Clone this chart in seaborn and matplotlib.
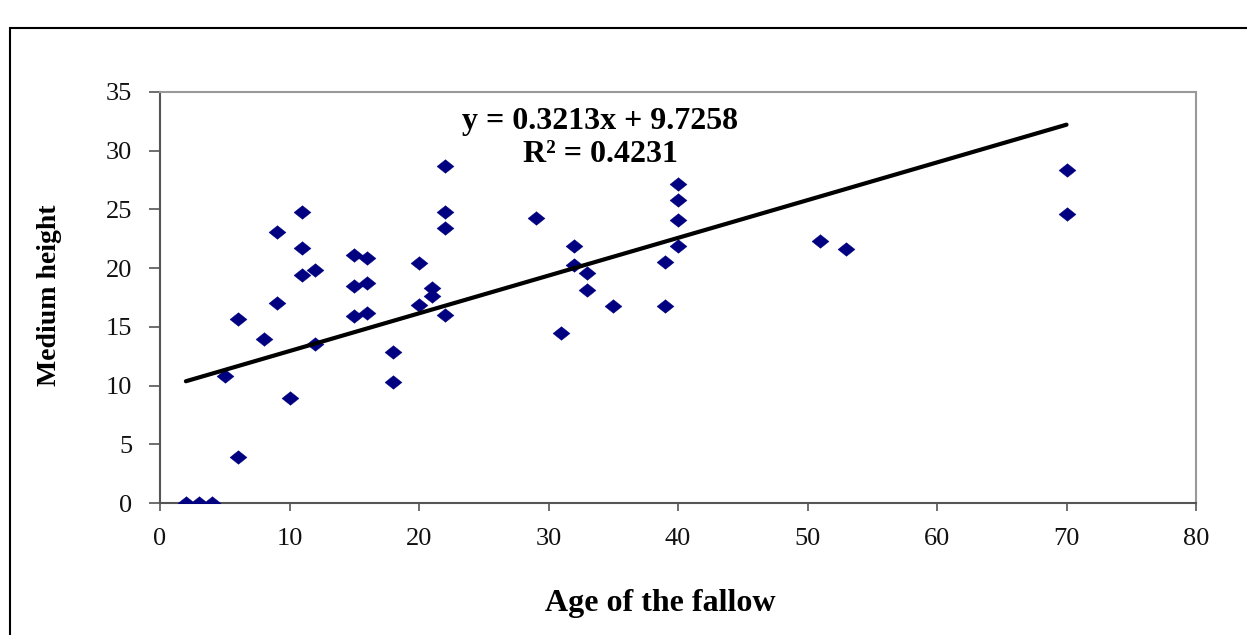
import matplotlib
matplotlib.use("Agg")
import matplotlib.pyplot as plt
import seaborn as sns
import numpy as np
import pandas as pd
from matplotlib.patches import Rectangle

# ---- data ----
age = [2, 3, 4, 5, 6, 6, 8, 9, 9, 10, 11, 11, 11, 12, 12,
       15, 15, 15, 16, 16, 16, 18, 18, 20, 20, 21, 21,
       22, 22, 22, 22, 29, 31, 32, 32, 33, 33, 35, 39, 39,
       40, 40, 40, 40, 51, 53, 70, 70]
height = [0.0, 0.0, 0.0, 10.8, 15.7, 3.9, 14.0, 23.1, 17.0, 8.9, 24.8, 21.7, 19.4, 19.8, 13.5,
          21.1, 18.5, 15.9, 20.9, 18.7, 16.2, 12.9, 10.3, 20.4, 16.9, 18.3, 17.6,
          28.7, 24.8, 23.4, 16.0, 24.3, 14.5, 21.9, 20.3, 19.6, 18.1, 16.8, 20.5, 16.8,
          27.2, 25.8, 24.1, 21.9, 22.3, 21.6, 28.4, 24.6]
slope = 0.3213
intercept = 9.7258
r2 = 0.4231
x_ticks = [0, 10, 20, 30, 40, 50, 60, 70, 80]
y_ticks = [0, 5, 10, 15, 20, 25, 30, 35]
x_label = "Age of the fallow"
y_label = "Medium height"

df = pd.DataFrame({"age": age, "height": height})

sns.set_theme(style="white")
plt.rcParams["font.family"] = ["Liberation Serif", "DejaVu Serif"]

W, H = 1247, 635
fig = plt.figure(figsize=(W / 100, H / 100), dpi=100)
ax = fig.add_axes([160 / W, 1 - 503 / H, (1196 - 160) / W, (503 - 92) / H])

diamond = [(-1, 0), (0, 0.8), (1, 0), (0, -0.8), (-1, 0)]
sns.scatterplot(data=df, x="age", y="height", marker=diamond, s=150,
                color="#000080", edgecolor="#000080", linewidth=0.3, ax=ax, zorder=3)

xl = np.array([min(age), max(age)])
sns.lineplot(x=xl, y=slope * xl + intercept, color="black", linewidth=3.0, ax=ax, zorder=4)

ax.set_xlim(0, 80)
ax.set_ylim(0, 35)
ax.set_xticks(x_ticks)
ax.set_yticks(y_ticks)
ax.tick_params(axis="y", direction="out", length=8, width=1.2, color="#555555",
               labelsize=19, pad=12, left=True, labelcolor="#111111")
ax.tick_params(axis="x", direction="out", length=6, width=1.2, color="#555555",
               labelsize=19, pad=12, bottom=True, labelcolor="#111111")

for side in ["left", "bottom"]:
    ax.spines[side].set_color("#555555")
    ax.spines[side].set_linewidth(1.5)
for side in ["top", "right"]:
    ax.spines[side].set_color("#999999")
    ax.spines[side].set_linewidth(1.5)

ax.set_xlabel("")
ax.set_ylabel("")
fig.text(660 / W, 1 - 604 / H, x_label, ha="center", va="center",
         fontsize=23, fontweight="bold", color="black")
fig.text(50 / W, 1 - 295 / H, y_label, ha="center", va="center",
         fontsize=20, fontweight="bold", rotation=90, color="black")

fig.text(600 / W, 1 - 122 / H, f"y = {slope}x + {intercept}",
         ha="center", va="center", fontsize=23, fontweight="bold", color="black")
fig.text(600 / W, 1 - 155 / H, f"R² = {r2}",
         ha="center", va="center", fontsize=23, fontweight="bold", color="black")

fig.patches.append(Rectangle((10 / W, -0.1), 2.0, 1 - 28 / H + 0.1,
                             transform=fig.transFigure, fill=False,
                             edgecolor="black", linewidth=1.5))

fig.savefig("out.png", dpi=100)
